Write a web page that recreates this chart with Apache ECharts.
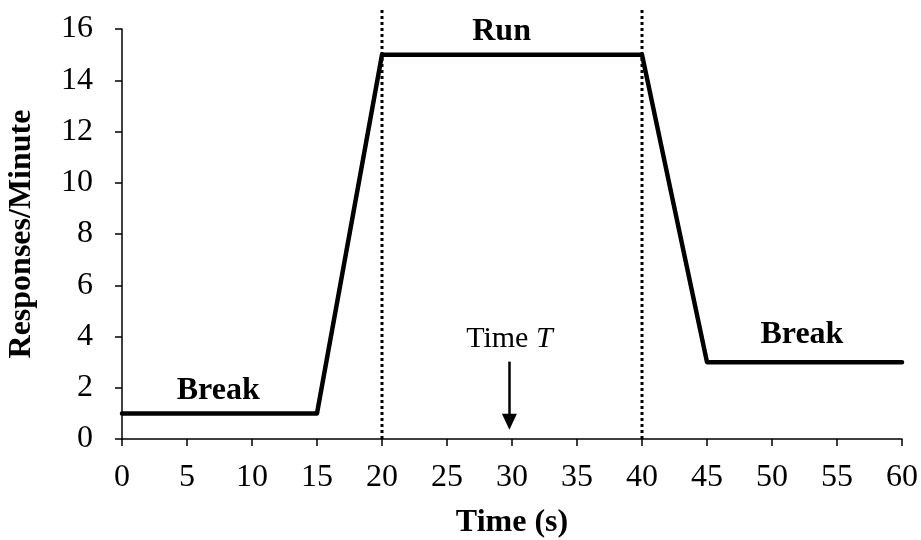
<!DOCTYPE html>
<html>
<head>
<meta charset="utf-8">
<script src="https://cdn.jsdelivr.net/npm/echarts@6/dist/echarts.min.js"></script>
<style>
  html, body { margin: 0; padding: 0; background: #fff; }
  #chart { width: 921px; height: 540px; }
</style>
</head>
<body>
<div id="chart"></div>
<script>
// Response rate profile over a fixed-interval trial
const timePoints = [0, 15, 20, 40, 45, 60];
const responseRates = [1, 1, 15, 15, 3, 3];

// Phase boundaries (dotted verticals)
const boundaryTimes = [20, 40];
const boundaryTop = 16.8;

// Phase labels: [x, y, text]
const phaseLabels = [
  [7.4, 1.9, 'Break'],
  [29.2, 15.9, 'Run'],
  [52.3, 4.05, 'Break']
];

// Time T marker
const markerLabel = [29.8, 3.9, 'Time {i|T}'];
const markerArrow = [[29.8, 3.02], [29.8, 0.67]];

const FONT = '"Liberation Serif", "Times New Roman", serif';
const TICK_SIZE = 32;
const TITLE_SIZE = 32;
const NOTE_SIZE = 30;

const chart = echarts.init(document.getElementById('chart'));

const boundarySeries = boundaryTimes.map(t => ({
  type: 'line',
  data: [[t, 0], [t, boundaryTop]],
  symbol: 'none',
  clip: false,
  silent: true,
  lineStyle: { color: '#000', width: 3, type: [3, 3] },
  z: 2
}));

chart.setOption({
  animation: false,
  backgroundColor: '#fff',
  grid: { left: 122, right: 19, top: 29, bottom: 101, outerBoundsMode: 'none', containLabel: false },
  xAxis: {
    type: 'value',
    min: 0, max: 60, interval: 5,
    name: 'Time (s)',
    nameLocation: 'middle',
    nameGap: 68,
    nameTextStyle: { fontFamily: FONT, fontSize: TITLE_SIZE, fontWeight: 'bold', color: '#000' },
    axisLine: { lineStyle: { color: '#000', width: 1.5 } },
    axisTick: { show: true, inside: false, length: 7, lineStyle: { color: '#000', width: 1.5 } },
    axisLabel: { fontFamily: FONT, fontSize: TICK_SIZE, color: '#000', margin: 23 },
    splitLine: { show: false }
  },
  yAxis: {
    type: 'value',
    min: 0, max: 16, interval: 2,
    name: 'Responses/Minute',
    nameLocation: 'middle',
    nameGap: 84,
    nameTextStyle: { fontFamily: FONT, fontSize: TITLE_SIZE, fontWeight: 'bold', color: '#000' },
    axisLine: { show: true, lineStyle: { color: '#000', width: 1.5 } },
    axisTick: { show: true, inside: false, length: 7, lineStyle: { color: '#000', width: 1.5 } },
    axisLabel: { fontFamily: FONT, fontSize: TICK_SIZE, color: '#000', margin: 29 },
    splitLine: { show: false }
  },
  series: [
    ...boundarySeries,
    {
      type: 'line',
      data: timePoints.map((t, i) => [t, responseRates[i]]),
      symbol: 'none',
      lineStyle: { color: '#000', width: 4.5, cap: 'round', join: 'round' },
      z: 3
    },
    {
      type: 'scatter',
      data: phaseLabels,
      symbolSize: 0,
      silent: true,
      itemStyle: { opacity: 1 },
      label: {
        show: true,
        position: 'inside',
        formatter: p => p.data[2],
        fontFamily: FONT, fontSize: TITLE_SIZE, fontWeight: 'bold', color: '#000', opacity: 1
      },
      z: 4
    },
    {
      type: 'scatter',
      data: [markerLabel],
      symbolSize: 0,
      silent: true,
      itemStyle: { opacity: 1 },
      label: {
        show: true,
        position: 'inside',
        formatter: p => p.data[2],
        fontFamily: FONT, fontSize: NOTE_SIZE, color: '#000', opacity: 1,
        rich: { i: { fontFamily: FONT, fontSize: NOTE_SIZE, fontStyle: 'italic', color: '#000' } }
      },
      markLine: {
        silent: true,
        symbol: ['none', 'triangle'],
        symbolSize: [15, 16],
        label: { show: false },
        lineStyle: { color: '#000', width: 2.5, type: 'solid', opacity: 1 },
        itemStyle: { color: '#000' },
        data: [[{ coord: markerArrow[0] }, { coord: markerArrow[1] }]]
      },
      z: 4
    }
  ]
});
</script>
</body>
</html>
